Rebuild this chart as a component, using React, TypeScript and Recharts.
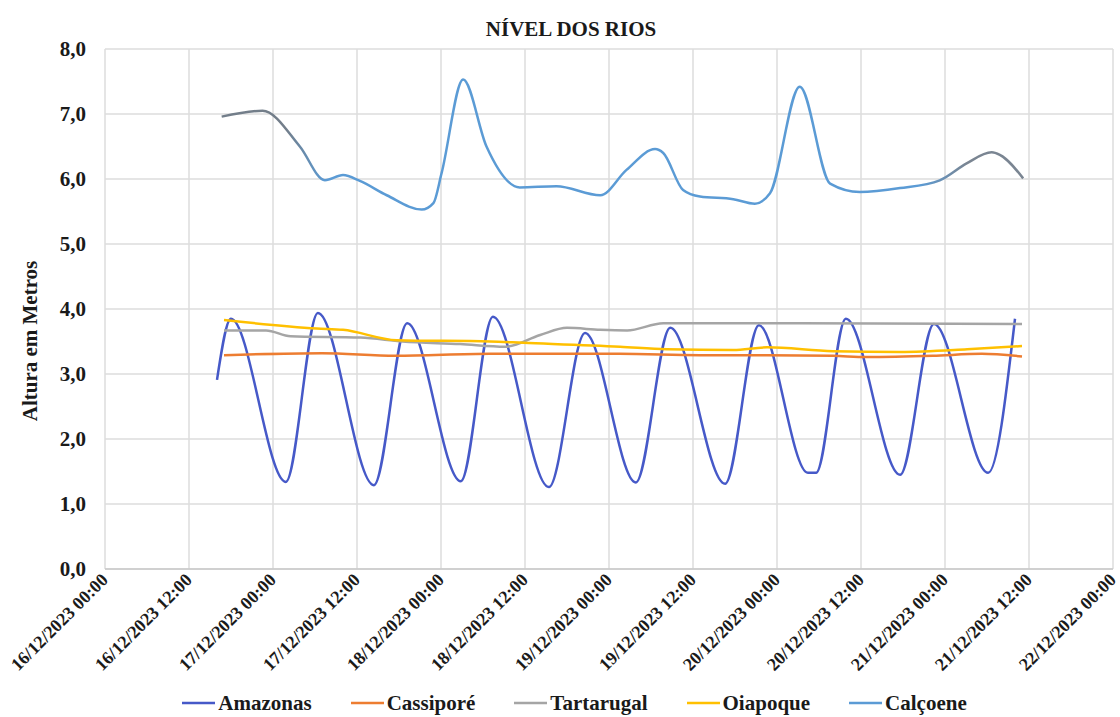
import React from 'react';
import { LineChart, Line, XAxis, YAxis, CartesianGrid, Legend, Customized } from 'recharts';

const chartTitle = 'NÍVEL DOS RIOS';
const yAxisTitle = 'Altura em Metros';

const xTickLabels = [
  '16/12/2023 00:00', '16/12/2023 12:00', '17/12/2023 00:00', '17/12/2023 12:00',
  '18/12/2023 00:00', '18/12/2023 12:00', '19/12/2023 00:00', '19/12/2023 12:00',
  '20/12/2023 00:00', '20/12/2023 12:00', '21/12/2023 00:00', '21/12/2023 12:00',
  '22/12/2023 00:00',
];
const yTicks = [0, 1, 2, 3, 4, 5, 6, 7, 8];

const amazonasTimes = [
  '16/12/2023 16:00', '16/12/2023 18:00', '17/12/2023 01:50', '17/12/2023 06:25',
  '17/12/2023 14:25', '17/12/2023 19:10', '18/12/2023 02:50', '18/12/2023 07:25',
  '18/12/2023 15:25', '18/12/2023 20:35', '19/12/2023 03:50', '19/12/2023 08:45',
  '19/12/2023 16:35', '19/12/2023 21:25', '20/12/2023 04:25', '20/12/2023 05:35',
  '20/12/2023 09:50', '20/12/2023 17:35', '20/12/2023 22:25', '21/12/2023 06:10',
  '21/12/2023 10:00',
];
const amazonasValues = [
  2.91, 3.85, 1.34, 3.94, 1.29, 3.78, 1.35, 3.88, 1.26, 3.63, 1.33, 3.71,
  1.31, 3.75, 1.48, 1.48, 3.85, 1.45, 3.77, 1.48, 3.85,
];

const cassiporeTimes = [
  '16/12/2023 17:00', '17/12/2023 07:00', '17/12/2023 17:30', '18/12/2023 07:00',
  '19/12/2023 01:30', '19/12/2023 13:00', '19/12/2023 22:30', '20/12/2023 08:00',
  '20/12/2023 12:45', '20/12/2023 22:15', '21/12/2023 05:15', '21/12/2023 11:00',
];
const cassiporeValues = [3.29, 3.32, 3.28, 3.31, 3.31, 3.29, 3.29, 3.28, 3.26, 3.28, 3.31, 3.27];

const tartarugalTimes = [
  '16/12/2023 17:00', '16/12/2023 23:00', '17/12/2023 02:30', '17/12/2023 12:30',
  '17/12/2023 18:30', '18/12/2023 02:45', '18/12/2023 09:10', '18/12/2023 14:10',
  '18/12/2023 18:00', '18/12/2023 22:45', '19/12/2023 02:35', '19/12/2023 07:45',
  '20/12/2023 03:15', '21/12/2023 11:00',
];
const tartarugalValues = [3.67, 3.67, 3.58, 3.56, 3.5, 3.46, 3.42, 3.6, 3.71, 3.68, 3.67, 3.78, 3.78, 3.77];

const oiapoqueTimes = [
  '16/12/2023 17:00', '17/12/2023 06:15', '17/12/2023 10:00', '17/12/2023 17:40',
  '18/12/2023 07:00', '18/12/2023 11:45', '19/12/2023 01:35', '19/12/2023 08:15',
  '19/12/2023 17:45', '19/12/2023 22:35', '20/12/2023 08:00', '20/12/2023 17:35',
  '21/12/2023 03:10', '21/12/2023 11:00',
];
const oiapoqueValues = [3.83, 3.7, 3.68, 3.52, 3.5, 3.48, 3.42, 3.38, 3.37, 3.41, 3.35, 3.34, 3.38, 3.43];

const calcoeneTimes = [
  '16/12/2023 16:40', '16/12/2023 22:30', '17/12/2023 03:50', '17/12/2023 07:25',
  '17/12/2023 10:00', '17/12/2023 12:25', '17/12/2023 16:15', '17/12/2023 21:15',
  '17/12/2023 22:55', '18/12/2023 00:05', '18/12/2023 03:10', '18/12/2023 06:30',
  '18/12/2023 11:15', '18/12/2023 16:30', '18/12/2023 22:45', '19/12/2023 02:30',
  '19/12/2023 06:35', '19/12/2023 07:45', '19/12/2023 10:35', '19/12/2023 13:00',
  '19/12/2023 17:45', '19/12/2023 20:50', '19/12/2023 23:00', '20/12/2023 03:15',
  '20/12/2023 07:35', '20/12/2023 11:50', '20/12/2023 17:35', '20/12/2023 23:15',
  '21/12/2023 03:05', '21/12/2023 06:40', '21/12/2023 07:50', '21/12/2023 11:10',
];
const calcoeneValues = [
  6.96, 7.05, 6.5, 5.98, 6.06, 5.97, 5.75, 5.53, 5.63, 6.09, 7.53, 6.5,
  5.87, 5.89, 5.75, 6.14, 6.46, 6.4, 5.83, 5.73, 5.69, 5.62, 5.78, 7.42,
  5.93, 5.8, 5.86, 5.98, 6.24, 6.41, 6.37, 6.01,
];

const seriesNames = ['Amazonas', 'Cassiporé', 'Tartarugal', 'Oiapoque', 'Calçoene'];
const seriesColors = ['#4659C8', '#ED7D31', '#A5A5A5', '#FFC000', '#5B9BD5'];

const FONT = '"Liberation Serif", "Times New Roman", serif';

function parseTime(s: string): number {
  const [d, t] = s.split(' ');
  const [dd, mm, yyyy] = d.split('/').map(Number);
  const [hh, mi] = t.split(':').map(Number);
  return Date.UTC(yyyy, mm - 1, dd, hh, mi);
}

function pad(n: number) {
  return n < 10 ? '0' + n : String(n);
}

function formatTime(ms: number): string {
  const d = new Date(ms);
  return `${pad(d.getUTCDate())}/${pad(d.getUTCMonth() + 1)}/${d.getUTCFullYear()} ${pad(d.getUTCHours())}:${pad(d.getUTCMinutes())}`;
}

function build(times: string[], values: number[]) {
  return times.map((t, i) => ({ t: parseTime(t), v: values[i] }));
}

const amazonasData = build(amazonasTimes, amazonasValues);
const cassiporeData = build(cassiporeTimes, cassiporeValues);
const tartarugalData = build(tartarugalTimes, tartarugalValues);
const oiapoqueData = build(oiapoqueTimes, oiapoqueValues);
const calcoeneData = build(calcoeneTimes, calcoeneValues);

const xTicks = xTickLabels.map(parseTime);
const xDomain = [xTicks[0], xTicks[xTicks.length - 1]];

const XTick = (props: any) => {
  const { x, y, payload } = props;
  return (
    <g transform={`translate(${x + 4},${y + 12})`}>
      <text
        x={0}
        y={0}
        textAnchor="end"
        transform="rotate(-45)"
        fontFamily={FONT}
        fontWeight="bold"
        fontSize={18}
        fill="#1a1a1a"
      >
        {formatTime(payload.value)}
      </text>
    </g>
  );
};

const Title = () => (
  <g>
    <text x={563} y={28} textAnchor="middle" fontFamily={FONT} fontWeight="bold" fontSize={21} fill="#1a1a1a">
      {chartTitle}
    </text>
    <text
      x={0}
      y={0}
      transform="translate(29,333) rotate(-90)"
      textAnchor="middle"
      fontFamily={FONT}
      fontWeight="bold"
      fontSize={21}
      fill="#1a1a1a"
    >
      {yAxisTitle}
    </text>
  </g>
);

const LegendContent = () => (
  <div
    style={{
      display: 'flex',
      justifyContent: 'center',
      alignItems: 'center',
      paddingLeft: 28,
      paddingTop: 3,
      fontFamily: FONT,
      fontWeight: 'bold',
      fontSize: 21,
      lineHeight: '18px',
      color: '#1a1a1a',
      whiteSpace: 'nowrap',
    }}
  >
    {seriesNames.map((name, i) => (
      <span key={name} style={{ display: 'inline-flex', alignItems: 'center', marginRight: i < seriesNames.length - 1 ? 39 : 0 }}>
        <svg width={33} height={4} style={{ display: 'block' }}>
          <line x1={0} y1={2} x2={33} y2={2} stroke={seriesColors[i]} strokeWidth={2.5} />
        </svg>
        <span style={{ marginLeft: 3 }}>{name}</span>
      </span>
    ))}
  </div>
);

export default function App() {
  return (
    <div style={{ position: 'absolute', left: 8, top: 8, width: 1112, height: 709, background: '#fff' }}>
      <LineChart width={1112} height={709} margin={{ top: 41, right: 7, bottom: 8, left: 0 }}>
        <defs>
          <linearGradient id="calGrad" x1="0" y1="0" x2="1" y2="0">
            <stop offset="0" stopColor="#737e8a" />
            <stop offset="0.08" stopColor="#737e8a" />
            <stop offset="0.13" stopColor="#5B9BD5" />
            <stop offset="0.87" stopColor="#5B9BD5" />
            <stop offset="0.93" stopColor="#7a8592" />
            <stop offset="1" stopColor="#7a8592" />
          </linearGradient>
        </defs>
        <CartesianGrid stroke="#dcdcdc" strokeWidth={1.5} />
        <XAxis
          type="number"
          dataKey="t"
          domain={xDomain}
          ticks={xTicks}
          interval={0}
          allowDataOverflow
          height={122}
          tickSize={0}
          tickMargin={0}
          tickLine={false}
          axisLine={{ stroke: '#c8c8c8', strokeWidth: 1.5 }}
          tick={<XTick />}
        />
        <YAxis
          type="number"
          domain={[0, 8]}
          ticks={yTicks}
          interval={0}
          width={97}
          tickSize={0}
          tickMargin={19}
          tickLine={false}
          axisLine={false}
          tickFormatter={(v: number) => v.toFixed(1).replace('.', ',')}
          tick={{ fontFamily: FONT, fontWeight: 'bold', fontSize: 21, fill: '#1a1a1a' }}
        />
        <Legend verticalAlign="bottom" align="center" wrapperStyle={{ height: 18 }} content={<LegendContent />} />
        <Line data={amazonasData} dataKey="v" name={seriesNames[0]} type="monotone" stroke={seriesColors[0]} strokeWidth={2.5} dot={false} activeDot={false} isAnimationActive={false} />
        <Line data={cassiporeData} dataKey="v" name={seriesNames[1]} type="monotone" stroke={seriesColors[1]} strokeWidth={2.5} dot={false} activeDot={false} isAnimationActive={false} />
        <Line data={tartarugalData} dataKey="v" name={seriesNames[2]} type="monotone" stroke={seriesColors[2]} strokeWidth={2.5} dot={false} activeDot={false} isAnimationActive={false} />
        <Line data={oiapoqueData} dataKey="v" name={seriesNames[3]} type="monotone" stroke={seriesColors[3]} strokeWidth={2.5} dot={false} activeDot={false} isAnimationActive={false} />
        <Line data={calcoeneData} dataKey="v" name={seriesNames[4]} type="monotone" stroke="url(#calGrad)" strokeWidth={2.5} dot={false} activeDot={false} isAnimationActive={false} />
        <Customized component={Title} />
      </LineChart>
    </div>
  );
}
